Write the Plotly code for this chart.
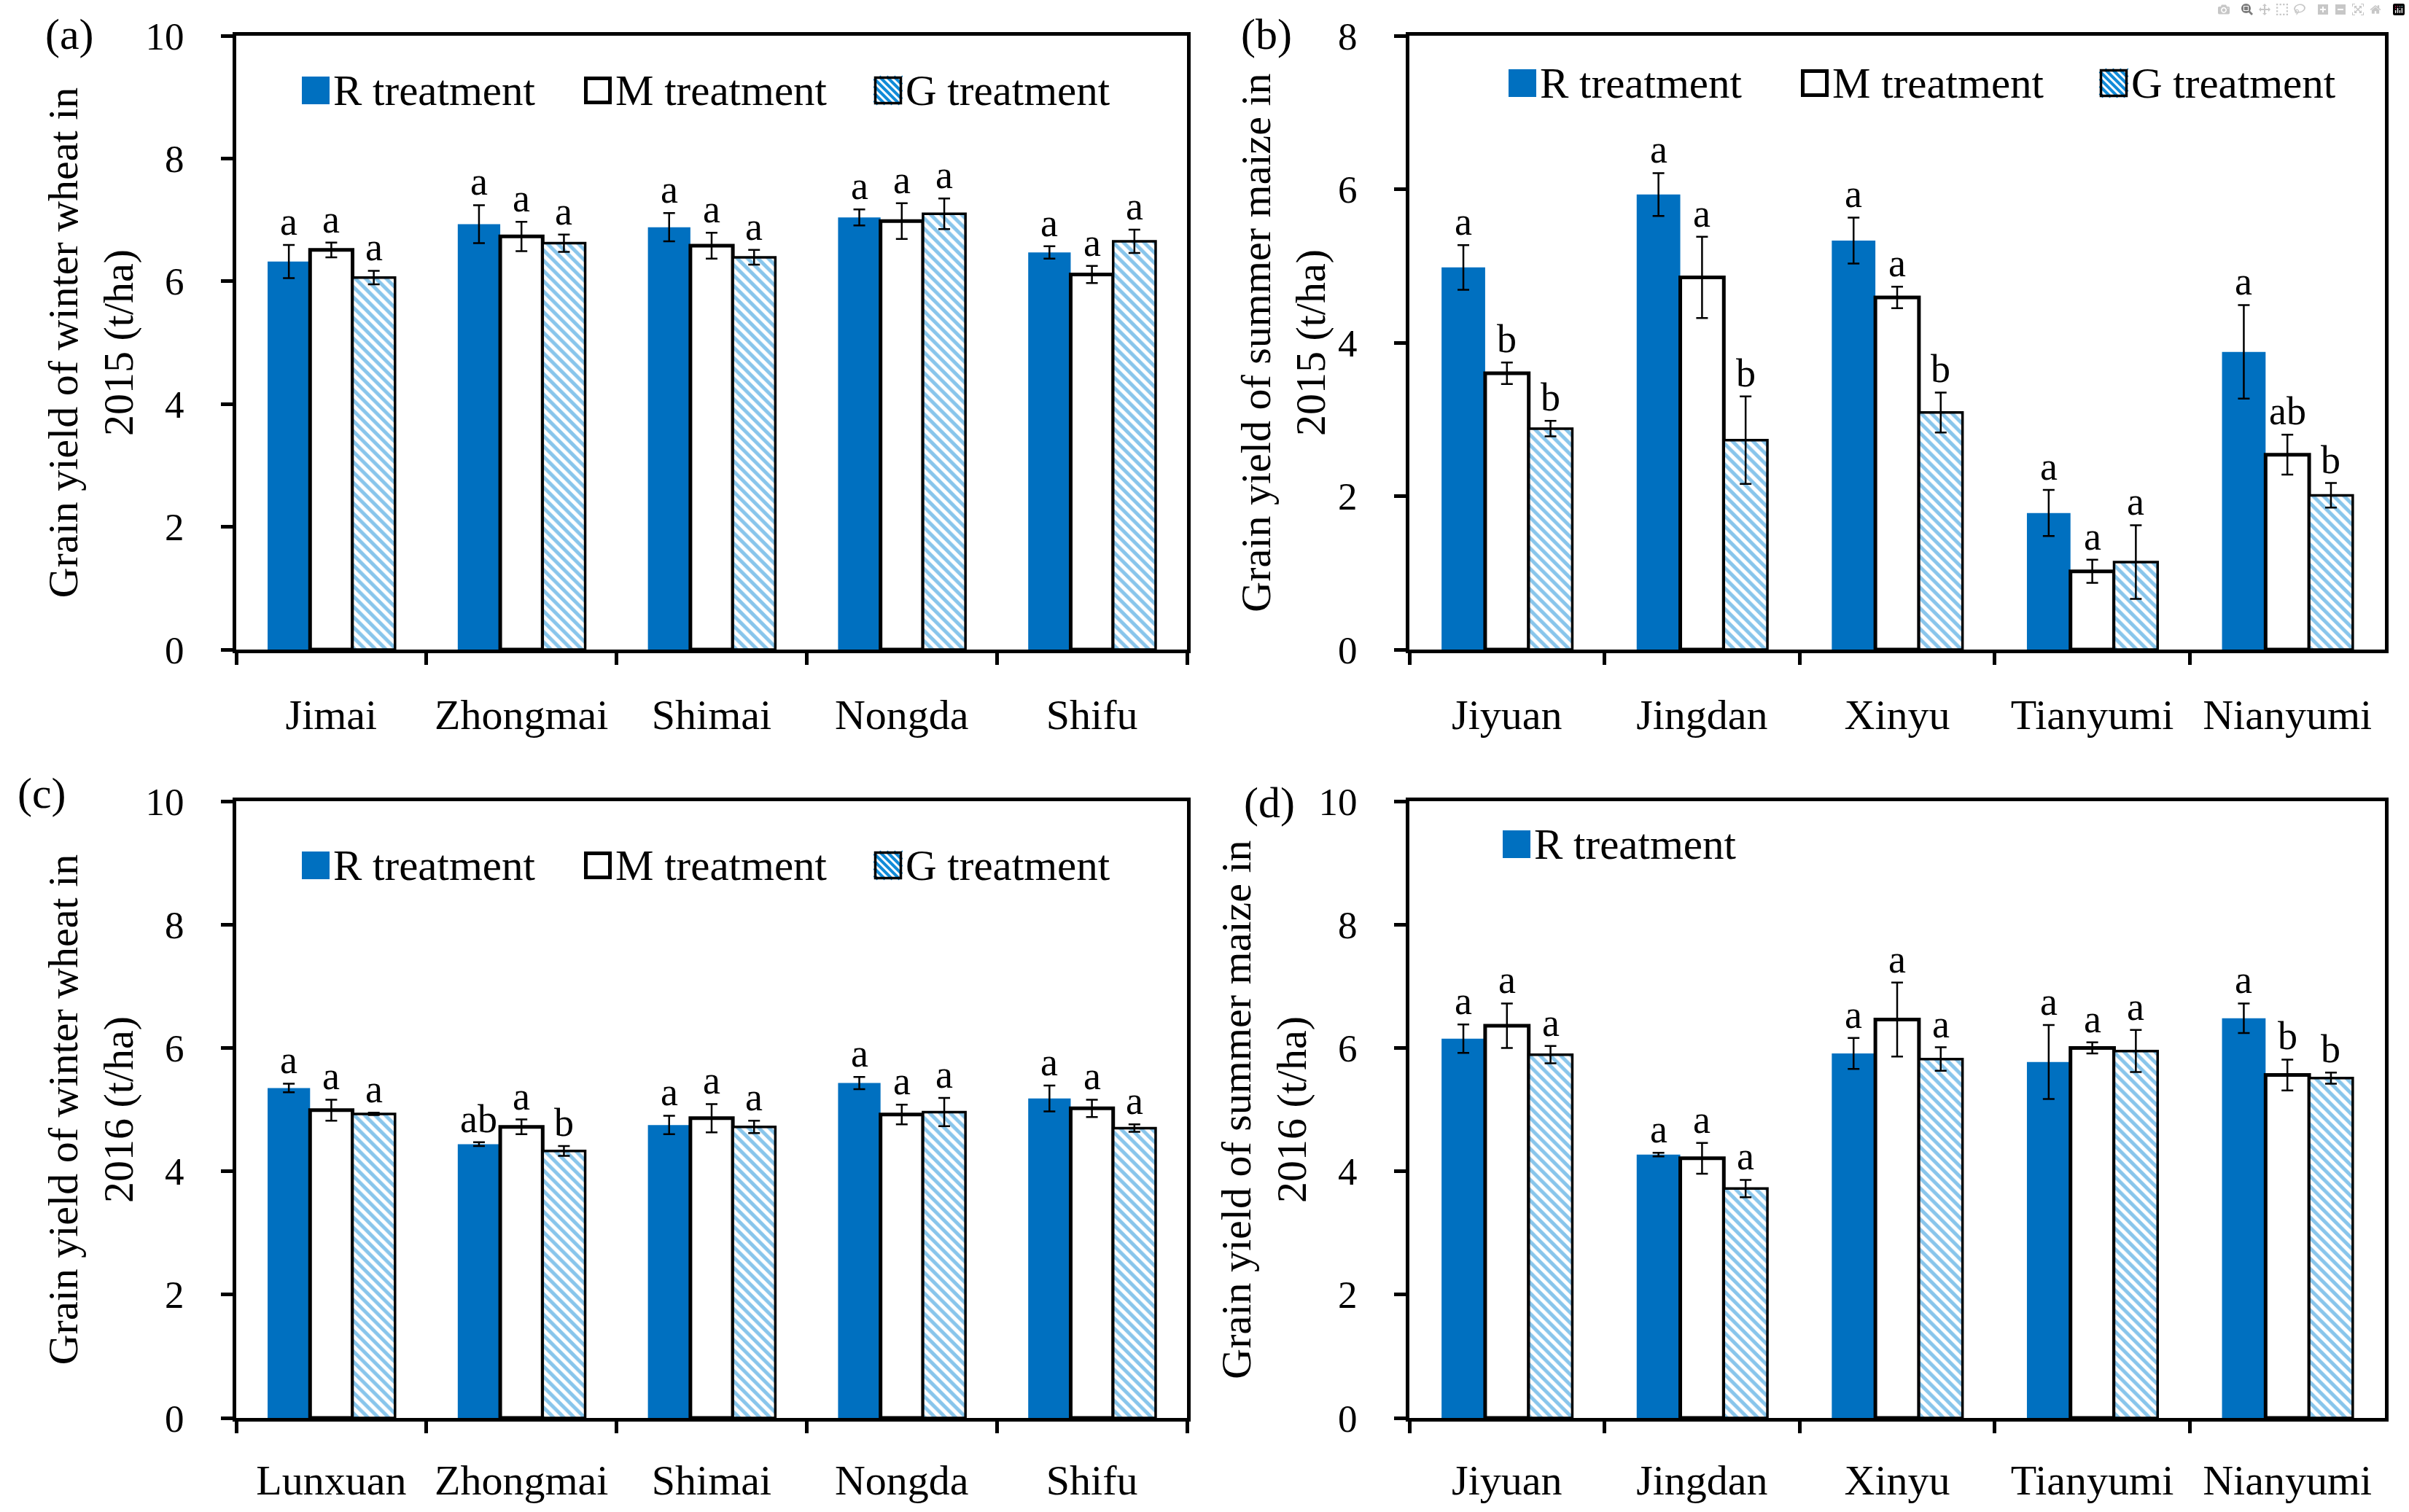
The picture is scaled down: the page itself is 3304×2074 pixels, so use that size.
import plotly.graph_objects as go

W, H = 3304, 2074

# ---------------- data ----------------
cats_a = ["Jimai", "Zhongmai", "Shimai", "Nongda", "Shifu"]
R_a = [6.32, 6.93, 6.88, 7.04, 6.47]
R_a_se = [0.27, 0.31, 0.23, 0.13, 0.10]
M_a = [6.51, 6.73, 6.58, 6.98, 6.11]
M_a_se = [0.12, 0.24, 0.21, 0.29, 0.14]
G_a = [6.06, 6.62, 6.39, 7.10, 6.65]
G_a_se = [0.11, 0.14, 0.12, 0.25, 0.19]
R_a_let = ["a", "a", "a", "a", "a"]
M_a_let = ["a", "a", "a", "a", "a"]
G_a_let = ["a", "a", "a", "a", "a"]

cats_b = ["Jiyuan", "Jingdan", "Xinyu", "Tianyumi", "Nianyumi"]
R_b = [4.98, 5.93, 5.33, 1.78, 3.88]
R_b_se = [0.29, 0.28, 0.30, 0.30, 0.61]
M_b = [3.60, 4.85, 4.59, 1.02, 2.54]
M_b_se = [0.14, 0.53, 0.14, 0.15, 0.26]
G_b = [2.88, 2.73, 3.09, 1.14, 2.01]
G_b_se = [0.10, 0.57, 0.26, 0.48, 0.16]
R_b_let = ["a", "a", "a", "a", "a"]
M_b_let = ["b", "a", "a", "a", "ab"]
G_b_let = ["b", "b", "b", "a", "b"]

cats_c = ["Lunxuan", "Zhongmai", "Shimai", "Nongda", "Shifu"]
R_c = [5.35, 4.44, 4.75, 5.43, 5.18]
R_c_se = [0.07, 0.03, 0.15, 0.10, 0.21]
M_c = [4.99, 4.72, 4.86, 4.92, 5.02]
M_c_se = [0.17, 0.12, 0.23, 0.16, 0.14]
G_c = [4.93, 4.33, 4.72, 4.96, 4.70]
G_c_se = [0.02, 0.08, 0.10, 0.23, 0.06]
R_c_let = ["a", "ab", "a", "a", "a"]
M_c_let = ["a", "a", "a", "a", "a"]
G_c_let = ["a", "b", "a", "a", "a"]

cats_d = ["Jiyuan", "Jingdan", "Xinyu", "Tianyumi", "Nianyumi"]
R_d = [6.15, 4.27, 5.91, 5.77, 6.48]
R_d_se = [0.23, 0.03, 0.25, 0.60, 0.24]
M_d = [6.36, 4.21, 6.46, 6.00, 5.56]
M_d_se = [0.36, 0.25, 0.60, 0.09, 0.25]
G_d = [5.89, 3.72, 5.82, 5.95, 5.51]
G_d_se = [0.14, 0.14, 0.19, 0.34, 0.09]
R_d_let = ["a", "a", "a", "a", "a"]
M_d_let = ["a", "a", "a", "a", "b"]
G_d_let = ["a", "a", "a", "a", "b"]

series_names = ["R treatment", "M treatment", "G treatment"]
y_titles = [
    "Grain yield of winter wheat in<br>2015 (t/ha)",
    "Grain yield of summer maize in<br>2015 (t/ha)",
    "Grain yield of winter wheat in<br>2016 (t/ha)",
    "Grain yield of summer maize in<br>2016 (t/ha)",
]
y_max = [10, 8, 10, 10]
panel_tags = ["(a)", "(b)", "(c)", "(d)"]
legend_items = [3, 3, 3, 1]   # number of legend entries shown per panel

panels = [
    dict(cats=cats_a, vals=[R_a, M_a, G_a], errs=[R_a_se, M_a_se, G_a_se], lets=[R_a_let, M_a_let, G_a_let]),
    dict(cats=cats_b, vals=[R_b, M_b, G_b], errs=[R_b_se, M_b_se, G_b_se], lets=[R_b_let, M_b_let, G_b_let]),
    dict(cats=cats_c, vals=[R_c, M_c, G_c], errs=[R_c_se, M_c_se, G_c_se], lets=[R_c_let, M_c_let, G_c_let]),
    dict(cats=cats_d, vals=[R_d, M_d, G_d], errs=[R_d_se, M_d_se, G_d_se], lets=[R_d_let, M_d_let, G_d_let]),
]

# ---------------- style / layout ----------------
FONT = "Liberation Serif"
BLUE = "#0070C0"
STRIPE = "#118BD8"
BARGAP = 0.33

xdom = [[324 / W, 1628 / W], [1933 / W, 3271 / W], [324 / W, 1628 / W], [1933 / W, 3271 / W]]
ydom = [[1 - 891 / H, 1 - 49 / H], [1 - 891 / H, 1 - 49 / H],
        [1 - 1945 / H, 1 - 1099 / H], [1 - 1945 / H, 1 - 1099 / H]]
# legend swatch left edges (px) and centre line (px) per panel
legend_x = [[414, 801, 1199], [2069, 2470, 2880], [414, 801, 1199], [2061]]
legend_yc = [124, 114, 1187, 1158]
SW = 38  # swatch size px
tag_pos = [(95, 47), (1737, 47), (57, 1088), (1741, 1101)]


def px(x):
    return x / W


def py(y):
    return 1 - y / H


fig = go.Figure()
annotations = []
shapes = []

for p, panel in enumerate(panels):
    n = p + 1
    xa = "x" if n == 1 else f"x{n}"
    ya = "y" if n == 1 else f"y{n}"
    for j in range(3):
        if j == 0:
            marker = dict(color=BLUE, line=dict(width=0))
        elif j == 1:
            marker = dict(color="white", line=dict(color="black", width=5))
        else:
            marker = dict(color="white", line=dict(color="black", width=3.5),
                          pattern=dict(shape="\\", fgcolor=STRIPE, bgcolor="white",
                                       size=10, solidity=0.5))
        fig.add_trace(go.Bar(
            x=panel["cats"], y=panel["vals"][j], name=series_names[j],
            marker=marker, xaxis=xa, yaxis=ya, showlegend=False,
            error_y=dict(type="data", array=panel["errs"][j], visible=True,
                         color="black", thickness=2.5, width=8),
        ))
    # significance letters above error bars
    cat_px = (xdom[p][1] - xdom[p][0]) * W / len(panel["cats"])
    bar_px = (1 - BARGAP) * cat_px / 3
    for j in range(3):
        for i, c in enumerate(panel["cats"]):
            annotations.append(dict(
                x=c, y=panel["vals"][j][i] + panel["errs"][j][i],
                xref=xa, yref=ya, xshift=(j - 1) * bar_px, yshift=0,
                text=panel["lets"][j][i], showarrow=False,
                xanchor="center", yanchor="bottom",
                font=dict(family=FONT, size=54, color="black")))
    # panel tag
    tx, ty = tag_pos[p]
    annotations.append(dict(x=px(tx), y=py(ty), xref="paper", yref="paper",
                            xanchor="center", yanchor="middle",
                            text=panel_tags[p], showarrow=False,
                            font=dict(family=FONT, size=60, color="black")))
    # legend (swatches + labels)
    yc = legend_yc[p]
    y0, y1 = yc - SW / 2, yc + SW / 2
    for k in range(legend_items[p]):
        x0 = legend_x[p][k]
        x1 = x0 + SW
        if k == 0:
            shapes.append(dict(type="rect", xref="paper", yref="paper",
                               x0=px(x0), x1=px(x1), y0=py(y0), y1=py(y1),
                               fillcolor=BLUE, line=dict(width=0)))
        elif k == 1:
            shapes.append(dict(type="rect", xref="paper", yref="paper",
                               x0=px(x0 + 2.5), x1=px(x1 - 2.5), y0=py(y0 + 2.5), y1=py(y1 - 2.5),
                               fillcolor="white", line=dict(color="black", width=5)))
        else:
            segs = []
            step = 10
            t = -SW + step / 2
            while t < SW:
                ax0, ay0 = x0 + t, y0
                ax1, ay1 = x0 + t + SW, y0 + SW
                if ax0 < x0:
                    ay0 += x0 - ax0
                    ax0 = x0
                if ax1 > x1:
                    ay1 -= ax1 - x1
                    ax1 = x1
                segs.append(f"M{px(ax0)},{py(ay0)}L{px(ax1)},{py(ay1)}")
                t += step
            shapes.append(dict(type="path", xref="paper", yref="paper", path="".join(segs),
                               line=dict(color=STRIPE, width=4)))
            shapes.append(dict(type="rect", xref="paper", yref="paper",
                               x0=px(x0 + 1.5), x1=px(x1 - 1.5), y0=py(y0 + 1.5), y1=py(y1 - 1.5),
                               fillcolor="rgba(0,0,0,0)", line=dict(color="black", width=3.5)))
        annotations.append(dict(x=px(x1 + 3), y=py(yc), xref="paper", yref="paper",
                                xanchor="left", yanchor="middle", showarrow=False,
                                text=series_names[k],
                                font=dict(family=FONT, size=59, color="black")))

layout = dict(
    width=W, height=H, margin=dict(l=0, r=0, t=0, b=0, autoexpand=False),
    paper_bgcolor="white", plot_bgcolor="white",
    barmode="group", bargap=BARGAP, bargroupgap=0, showlegend=False,
    font=dict(family=FONT, size=54, color="black"),
    annotations=annotations, shapes=shapes,
)

for p in range(4):
    n = p + 1
    sx = "xaxis" if n == 1 else f"xaxis{n}"
    sy = "yaxis" if n == 1 else f"yaxis{n}"
    ax_x = "x" if n == 1 else f"x{n}"
    ax_y = "y" if n == 1 else f"y{n}"
    layout[sx] = dict(
        domain=xdom[p], anchor=ax_y, type="category", automargin=False,
        tickson="boundaries", ticks="outside", ticklen=16, tickwidth=5, tickcolor="black",
        showline=True, linewidth=5, linecolor="black", mirror=True,
        showgrid=False, tickfont=dict(family=FONT, size=58),
        ticklabelstandoff=34 if p < 2 else 30,
    )
    layout[sy] = dict(
        domain=ydom[p], anchor=ax_x, range=[0, y_max[p]], dtick=2, automargin=False,
        ticks="outside", ticklen=16, tickwidth=5, tickcolor="black",
        showline=True, linewidth=5, linecolor="black", mirror=True,
        showgrid=False, zeroline=False, tickfont=dict(family=FONT, size=53),
        ticklabelstandoff=40,
        title=dict(text=y_titles[p], font=dict(family=FONT, size=58), standoff=0),
    )

fig.update_layout(**layout)
fig.write_html("out.html", post_script="document.body.style.margin='0';")
